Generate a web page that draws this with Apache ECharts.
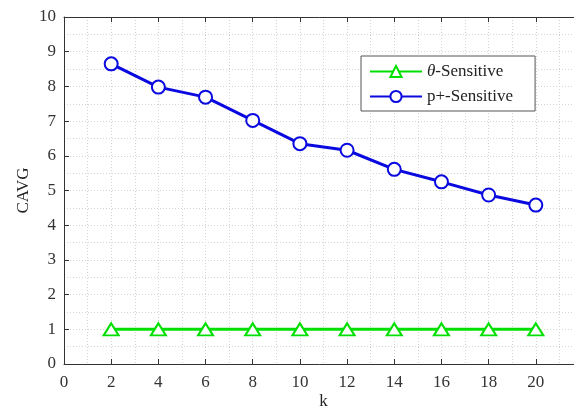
<!DOCTYPE html>
<html>
<head>
<meta charset="utf-8">
<script src="https://cdn.jsdelivr.net/npm/echarts@6/dist/echarts.min.js"></script>
<style>
  html, body { margin: 0; padding: 0; background: #fff; }
  #chart { width: 574px; height: 407px; }
</style>
</head>
<body>
<div id="chart"></div>
<script>
// k values
var kValues = [2, 4, 6, 8, 10, 12, 14, 16, 18, 20];
// θ-Sensitive
var thetaSensitive = [1, 1, 1, 1, 1, 1, 1, 1, 1, 1];
// p+-Sensitive
var pSensitive = [8.65, 7.98, 7.69, 7.02, 6.35, 6.16, 5.61, 5.25, 4.87, 4.58];

var serif = "Liberation Serif";
var gridDot = { show: true, lineStyle: { color: "#d4d4d4", type: [1, 2], width: 1 } };

var myChart = echarts.init(document.getElementById("chart"));

myChart.setOption({
  animation: false,
  backgroundColor: "#ffffff",
  textStyle: { fontFamily: serif },
  grid: { left: 64, top: 17, width: 519, height: 347, outerBoundsMode: "none", containLabel: false },
  legend: {
    orient: "vertical",
    left: 361,
    top: 56,
    padding: [7, 22, 6, 8],
    itemGap: 8,
    itemWidth: 52,
    itemHeight: 14,
    borderColor: "#555",
    borderWidth: 1,
    backgroundColor: "#fff",
    textStyle: {
      fontFamily: serif,
      fontSize: 17,
      color: "#222",
      rich: { i: { fontStyle: "italic", fontFamily: serif, fontSize: 17, color: "#222" } }
    },
    formatter: function (name) {
      if (name == "θ-Sensitive") return "{i|θ}-Sensitive";
      return name;
    },
    data: ["θ-Sensitive", "p+-Sensitive"]
  },
  xAxis: [
    {
      type: "value",
      min: 0,
      max: 22,
      interval: 2,
      name: "k",
      nameLocation: "middle",
      nameGap: 29,
      nameMoveOverlap: false,
      nameTextStyle: { fontFamily: serif, fontSize: 17, color: "#222" },
      axisLine: { show: true, lineStyle: { color: "#333", width: 1 } },
      axisTick: { show: true, inside: true, length: 5, lineStyle: { color: "#333" } },
      axisLabel: { fontFamily: serif, fontSize: 17, color: "#333", margin: 10 },
      splitLine: gridDot,
      minorTick: { show: false, splitNumber: 2 },
      minorSplitLine: gridDot
    },
    {
      type: "value",
      position: "top",
      min: 0,
      max: 22,
      interval: 2,
      axisLine: { show: true, lineStyle: { color: "#333", width: 1 } },
      axisTick: { show: true, inside: true, length: 5, lineStyle: { color: "#333" } },
      axisLabel: { show: false },
      splitLine: { show: false }
    }
  ],
  yAxis: [
    {
      type: "value",
      min: 0,
      max: 10,
      interval: 1,
      name: "CAVG",
      nameLocation: "middle",
      nameGap: 32,
      nameMoveOverlap: false,
      nameTextStyle: { fontFamily: serif, fontSize: 17, color: "#222" },
      axisLine: { show: true, lineStyle: { color: "#333", width: 1 } },
      axisTick: { show: true, inside: true, length: 5, lineStyle: { color: "#333" } },
      axisLabel: { fontFamily: serif, fontSize: 17, color: "#333", margin: 8 },
      splitLine: gridDot,
      minorTick: { show: false, splitNumber: 2 },
      minorSplitLine: gridDot
    }
  ],
  series: [
    {
      name: "θ-Sensitive",
      type: "line",
      data: kValues.map(function (k, i) { return [k, thetaSensitive[i]]; }),
      symbol: "emptyTriangle",
      symbolSize: [15, 12],
      color: "#00e000",
      lineStyle: { color: "#00e000", width: 3 },
      itemStyle: { color: "#00e000", borderWidth: 2.5 }
    },
    {
      name: "p+-Sensitive",
      type: "line",
      data: kValues.map(function (k, i) { return [k, pSensitive[i]]; }),
      symbol: "emptyCircle",
      symbolSize: 13,
      color: "#0a0ae0",
      lineStyle: { color: "#0a0ae0", width: 3 },
      itemStyle: { color: "#0a0ae0", borderWidth: 2.5 }
    }
  ]
});
</script>
</body>
</html>
